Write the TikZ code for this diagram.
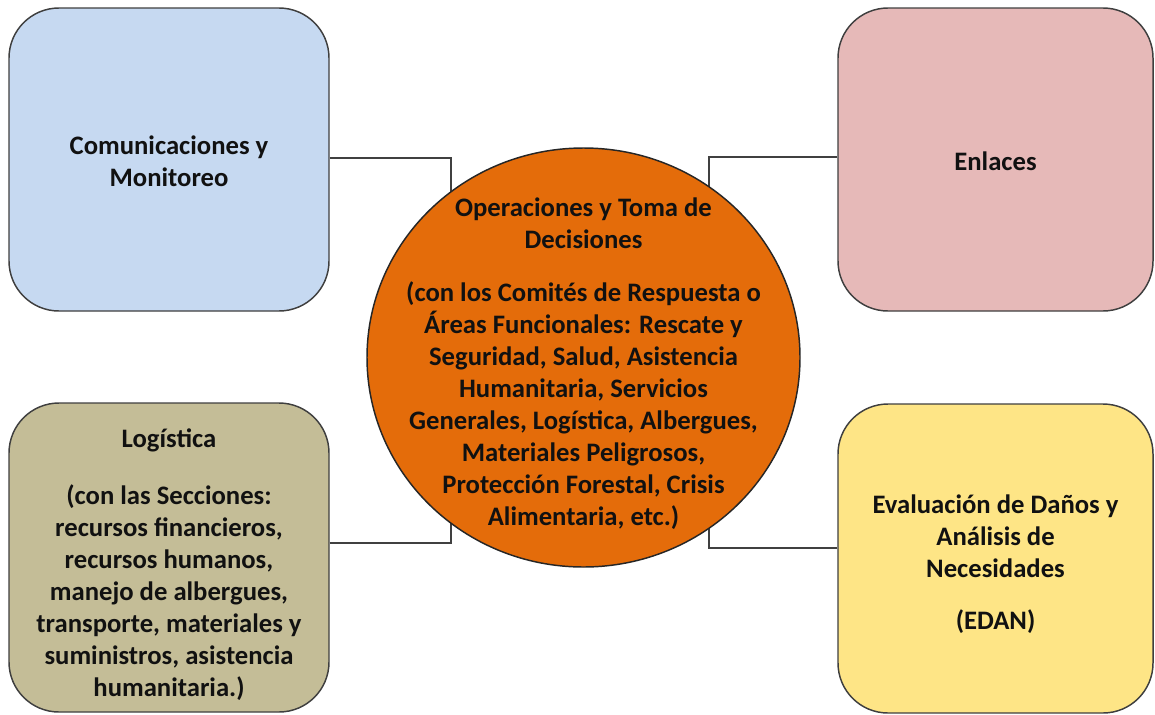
\documentclass[tikz,border=0pt]{standalone}
\usepackage{fontspec}
\setmainfont{Carlito}
\usetikzlibrary{calc,shapes.geometric}
\pgfdeclarelayer{bg}
\pgfsetlayers{bg,main}
\definecolor{cblue}{HTML}{C6D9F1}
\definecolor{cpink}{HTML}{E6B9B8}
\definecolor{ctan}{HTML}{C4BD97}
\definecolor{cyellow}{HTML}{FEE586}
\definecolor{corange}{HTML}{E46C0A}
\definecolor{cborder}{HTML}{3F3F3F}
\definecolor{cline}{HTML}{404040}
\definecolor{ctext}{HTML}{111111}
\begin{document}
\begin{tikzpicture}[x=0.75pt,y=-0.75pt]
\tikzset{
  txt/.style={align=center, font=\bfseries\fontsize{20}{24}\selectfont, text=ctext, inner sep=0pt},
  box/.style={draw=cborder, line width=1.1pt, rounded corners=37.5pt, inner sep=0pt},
  conn/.style={draw=cline, line width=1pt},
}
\useasboundingbox (0,0) rectangle (1155,714);
% boxes
\node[box, fill=cblue, minimum width=240pt, minimum height=227.25pt] (comm) at (169,159.5) {};
\node[box, fill=cpink, minimum width=236.25pt, minimum height=227.25pt] (enl) at (995.5,159.5) {};
\node[box, fill=ctan, minimum width=240pt, minimum height=231.75pt] (logi) at (169,557.5) {};
\node[box, fill=cyellow, minimum width=236.25pt, minimum height=231.75pt] (edan) at (995.5,558.5) {};
\node[ellipse, draw=black!85, line width=1.1pt, fill=corange, inner sep=0pt, minimum width=324.75pt, minimum height=314.25pt] (circ) at (583.5,357.5) {};
% texts
\node[txt] (commtxt) at ($(comm.center)+(0,1.5)$) {Comunicaciones y\\Monitoreo};
\node[txt] (enltxt) at ($(enl.center)+(0,2)$) {Enlaces};
\node[txt] (logitxt) at ($(logi.center)+(0,7)$) {Logística\\[18.75pt](con las Secciones:\\recursos financieros,\\recursos humanos,\\manejo de albergues,\\transporte, materiales y\\suministros, asistencia\\humanitaria.)};
\node[txt] (edantxt) at ($(edan.center)+(0,5.5)$) {Evaluación de Daños y\\Análisis de\\Necesidades\\[15pt](EDAN)};
\node[txt] (circtxt) at ($(circ.center)+(0,6.5)$) {Operaciones y Toma de\\Decisiones\\[15.75pt](con los Comités de Respuesta o\\Áreas Funcionales: Rescate y\\Seguridad, Salud, Asistencia\\Humanitaria, Servicios\\Generales, Logística, Albergues,\\Materiales Peligrosos,\\Protección Forestal, Crisis\\Alimentaria, etc.)};
% connectors
\begin{pgfonlayer}{bg}
\draw[conn] ($(comm.east)+(0,-1.5)$) -| ($(circ.center)+(-132.5,0)$);
\draw[conn] ($(enl.west)+(0,-2.5)$) -| ($(circ.center)+(125.5,0)$);
\draw[conn] ($(logi.east)+(0,-14.5)$) -| ($(circ.center)+(-132.5,0)$);
\draw[conn] ($(edan.west)+(0,-10.5)$) -| ($(circ.center)+(125.5,0)$);
\end{pgfonlayer}
\end{tikzpicture}
\end{document}
